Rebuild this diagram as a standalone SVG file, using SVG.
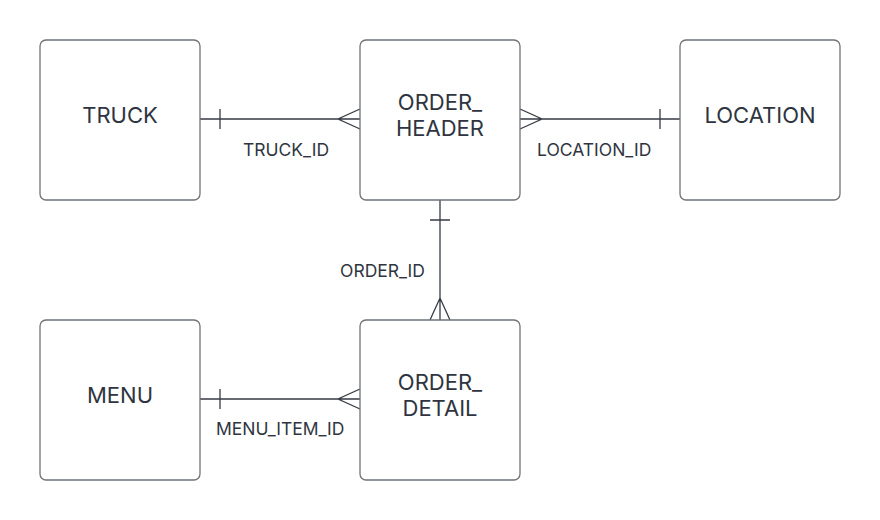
<svg xmlns="http://www.w3.org/2000/svg" width="880" height="520" viewBox="0 0 880 520">
<style>
.box{fill:#ffffff;stroke:#6e7177;stroke-width:1.3}
.t{font-family:Inter,"Liberation Sans",sans-serif;font-size:22px;fill:#2f3540;text-anchor:middle}
.l{font-family:Inter,"Liberation Sans",sans-serif;font-size:17.5px;fill:#2f3540;text-anchor:start}
.c{fill:none;stroke:#363b43;stroke-width:1.3}
</style>
<rect width="880" height="520" fill="#ffffff"/>
<g id="connectors">
<g id="truck-header">
<path class="c" d="M200 119H360M220 109V129M360 109L338 119L360 129"/>
<text class="l" x="243" y="156">TRUCK_ID</text>
</g>
<g id="header-location">
<path class="c" d="M520 119H680M660 109V129M520 109L542 119L520 129"/>
<text class="l" x="537" y="156">LOCATION_ID</text>
</g>
<g id="header-detail">
<path class="c" d="M440 200V320M430 220H450M430 320L440 298L450 320"/>
<text class="l" x="340" y="277">ORDER_ID</text>
</g>
<g id="menu-detail">
<path class="c" d="M200 399H360M220 389V409M360 389L338 399L360 409"/>
<text class="l" x="216" y="435">MENU_ITEM_ID</text>
</g>
</g>
<g id="truck"><rect class="box" x="40" y="40" width="160" height="160" rx="6"/><text class="t" x="120" y="123">TRUCK</text></g>
<g id="order_header"><rect class="box" x="360" y="40" width="160" height="160" rx="6"/><text class="t" x="440" y="110">ORDER_</text><text class="t" x="440" y="136">HEADER</text></g>
<g id="location"><rect class="box" x="680" y="40" width="160" height="160" rx="6"/><text class="t" x="760" y="123">LOCATION</text></g>
<g id="menu"><rect class="box" x="40" y="320" width="160" height="160" rx="6"/><text class="t" x="120" y="403">MENU</text></g>
<g id="order_detail"><rect class="box" x="360" y="320" width="160" height="160" rx="6"/><text class="t" x="440" y="390">ORDER_</text><text class="t" x="440" y="416">DETAIL</text></g>
</svg>
